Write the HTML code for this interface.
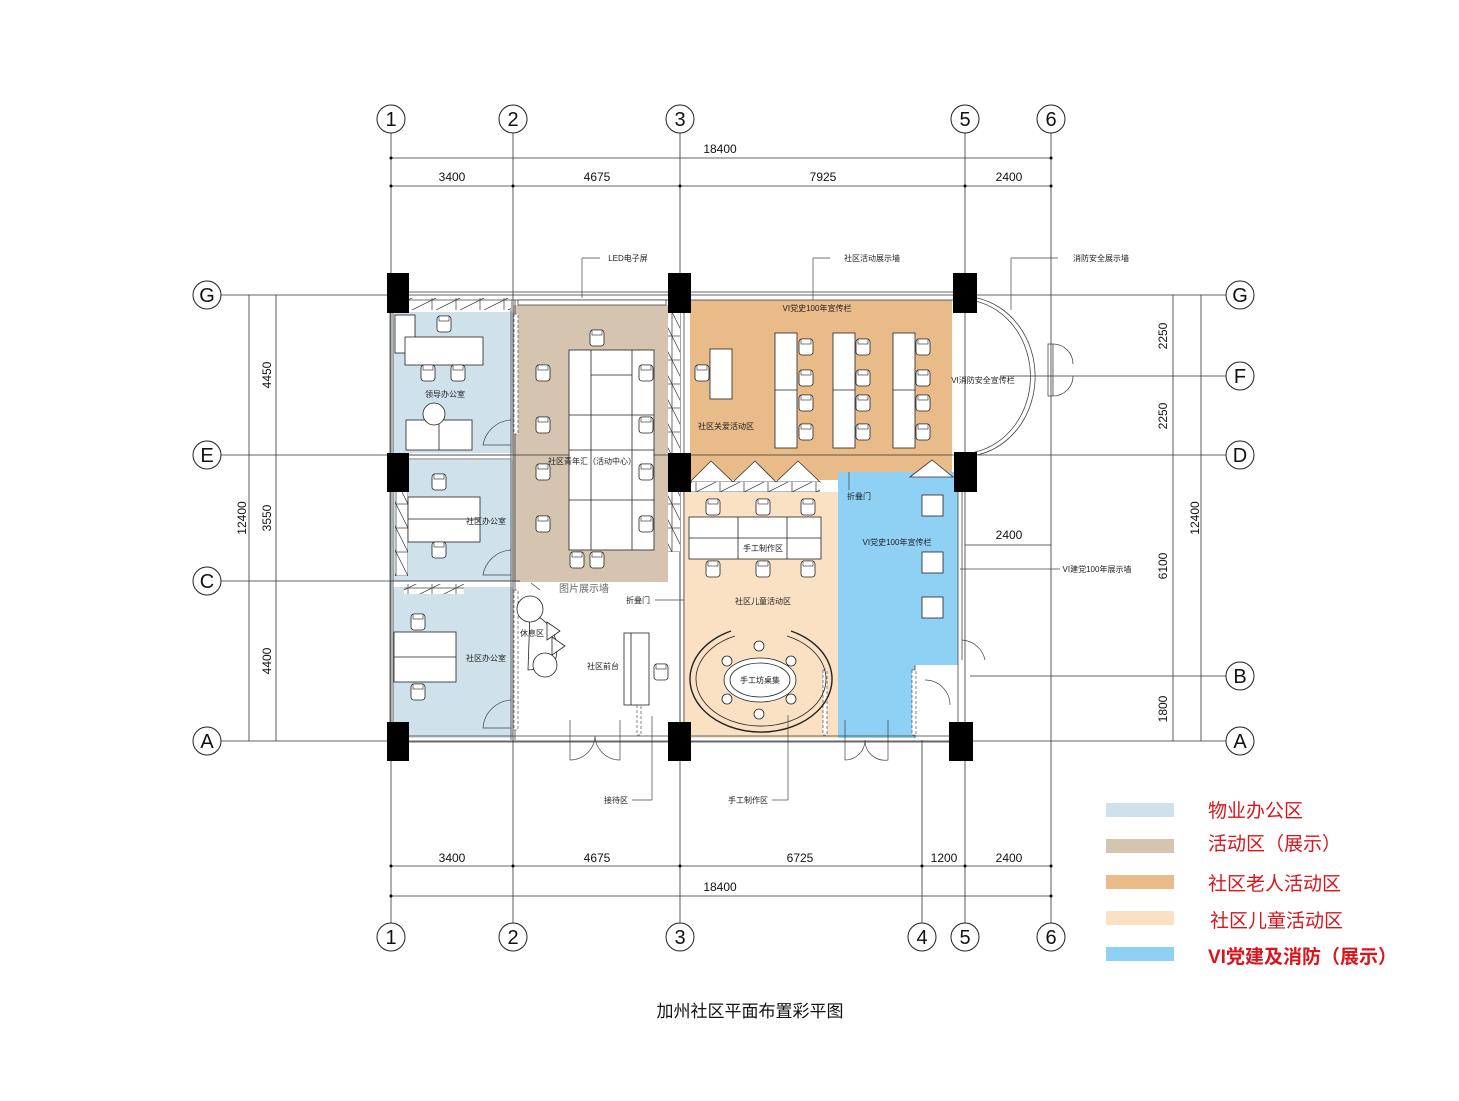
<!DOCTYPE html>
<html><head><meta charset="utf-8"><style>
html,body{margin:0;padding:0;background:#fff}
svg{display:block}
text{font-family:"Liberation Sans","Noto Sans CJK SC",sans-serif}
</style></head><body>
<svg width="1459" height="1101" viewBox="0 0 1459 1101" xmlns="http://www.w3.org/2000/svg">
<defs>
<g id="ch"><rect x="-7" y="-8" width="14" height="16" rx="3" fill="#fff" stroke="#222" stroke-width="0.8"/><rect x="-5" y="-8" width="10" height="5" fill="#fff" stroke="#222" stroke-width="0.6"/></g>
<pattern id="hat" width="24" height="12" patternUnits="userSpaceOnUse"><rect width="24" height="12" fill="#fff"/><path d="M0 12 L24 0" stroke="#333" stroke-width="0.7"/><rect width="24" height="12" fill="none" stroke="#333" stroke-width="0.7"/></pattern>
<pattern id="hatv" width="12" height="24" patternUnits="userSpaceOnUse"><rect width="12" height="24" fill="#fff"/><path d="M0 0 L12 24" stroke="#333" stroke-width="0.7"/><rect width="12" height="24" fill="none" stroke="#333" stroke-width="0.7"/></pattern>
</defs>

<rect x="393" y="312" width="120" height="141" fill="#cfe2ec"/>
<rect x="393" y="460" width="120" height="121" fill="#cfe2ec"/>
<rect x="393" y="587" width="120" height="151" fill="#cfe2ec"/>
<rect x="513" y="305" width="155" height="277" fill="#d5c4b0"/>
<path d="M690 300 L952 300 L952 480 L690 480 Z" fill="#e8bb88"/>
<rect x="683" y="492" width="155" height="246" fill="#fbe1c4"/>
<path d="M838 472 L958 472 L958 665 L915 665 L915 738 L838 738 Z" fill="#8fd0f5"/>
<g fill="#fff" stroke="#333" stroke-width="0.8">
<path d="M690 482 L711 461 L733 482 Z"/><path d="M733 482 L755 461 L776 482 Z"/><path d="M776 482 L798 461 L820 482 Z"/><path d="M910 477 L932 460 L953 477 Z"/>
</g>
<rect x="690" y="482" width="130" height="10" fill="url(#hat)"/>

<g stroke="#333" stroke-width="0.8" fill="none">
<line x1="391" y1="133" x2="391" y2="923"/><line x1="513" y1="133" x2="513" y2="923"/><line x1="680" y1="133" x2="680" y2="923"/>
<line x1="922" y1="740" x2="922" y2="923"/><line x1="965" y1="133" x2="965" y2="923"/><line x1="1051" y1="133" x2="1051" y2="923"/>
<line x1="221" y1="295" x2="1226" y2="295"/><line x1="1000" y1="376" x2="1226" y2="376"/>
<line x1="221" y1="455" x2="1226" y2="455"/><line x1="221" y1="581" x2="520" y2="581"/>
<line x1="970" y1="676" x2="1226" y2="676"/><line x1="221" y1="741" x2="1226" y2="741"/>
<line x1="391" y1="158" x2="1051" y2="158"/><line x1="391" y1="186" x2="1051" y2="186"/>
<line x1="391" y1="866" x2="1051" y2="866"/><line x1="391" y1="896" x2="1051" y2="896"/>
<line x1="249" y1="295" x2="249" y2="741"/><line x1="276" y1="295" x2="276" y2="741"/>
<line x1="1173" y1="295" x2="1173" y2="741"/><line x1="1201" y1="295" x2="1201" y2="741"/>
<line x1="965" y1="545" x2="1051" y2="545"/>
</g>
<g fill="#000">
<circle cx="391" cy="158" r="1.5"/><circle cx="1051" cy="158" r="1.5"/>
<circle cx="391" cy="186" r="1.5"/><circle cx="513" cy="186" r="1.5"/><circle cx="680" cy="186" r="1.5"/><circle cx="965" cy="186" r="1.5"/><circle cx="1051" cy="186" r="1.5"/>
<circle cx="391" cy="866" r="1.5"/><circle cx="513" cy="866" r="1.5"/><circle cx="680" cy="866" r="1.5"/><circle cx="922" cy="866" r="1.5"/><circle cx="965" cy="866" r="1.5"/><circle cx="1051" cy="866" r="1.5"/>
<circle cx="391" cy="896" r="1.5"/><circle cx="1051" cy="896" r="1.5"/>
</g>

<g stroke="#444" stroke-width="0.8" fill="none">
<rect x="391" y="292" width="574" height="8"/>
<rect x="391" y="736" width="574" height="6"/>
<line x1="390" y1="300" x2="390" y2="740"/><line x1="393" y1="300" x2="393" y2="740"/>
<line x1="511" y1="300" x2="511" y2="740"/><line x1="515" y1="300" x2="515" y2="740"/>
<line x1="680" y1="300" x2="680" y2="740"/><line x1="684" y1="300" x2="684" y2="740"/>
<line x1="958" y1="492" x2="958" y2="740"/><line x1="962" y1="492" x2="962" y2="660"/>
<line x1="393" y1="455" x2="511" y2="455"/><line x1="393" y1="459" x2="511" y2="459"/>
<line x1="393" y1="581" x2="511" y2="581"/>
<line x1="915" y1="665" x2="915" y2="738"/>
<path d="M977 298 A72 80 0 0 1 977 455"/>
<path d="M975 301 A69 77 0 0 1 975 452"/>
<rect x="1048" y="344" width="5" height="52"/>
<path d="M1053 344 A20 20 0 0 1 1073 364 M1053 396 A20 20 0 0 0 1073 376"/>
</g>
<rect x="407" y="298" width="104" height="12" fill="url(#hat)"/>
<rect x="518" y="300" width="148" height="5" fill="#fff" stroke="#333" stroke-width="0.7"/>
<rect x="668" y="313" width="12" height="140" fill="url(#hatv)"/>
<rect x="395" y="492" width="13" height="84" fill="url(#hatv)"/>
<rect x="404" y="584" width="60" height="10" fill="url(#hat)"/>
<rect x="668" y="492" width="12" height="60" fill="url(#hatv)"/>
<g fill="#fff" stroke="#333" stroke-width="0.6">
<rect x="514" y="314" width="4" height="120" stroke-dasharray="3 2"/>
<rect x="514" y="590" width="4" height="140" stroke-dasharray="3 2"/>
<rect x="637" y="640" width="4" height="95" stroke-dasharray="3 2"/>
<rect x="823" y="670" width="4" height="65" stroke-dasharray="3 2"/>
<rect x="912" y="670" width="4" height="65" stroke-dasharray="3 2"/>
</g>

<g fill="#000">
<rect x="387" y="273" width="22" height="40"/><rect x="668" y="273" width="23" height="40"/><rect x="953" y="273" width="24" height="40"/>
<rect x="387" y="453" width="22" height="39"/><rect x="668" y="453" width="23" height="39"/><rect x="954" y="452" width="23" height="40"/>
<rect x="387" y="722" width="22" height="39"/><rect x="668" y="722" width="23" height="39"/><rect x="949" y="722" width="24" height="39"/>
</g>

<g fill="none" stroke="#444" stroke-width="0.7">
<path d="M511 420 A30 30 0 0 0 483 445 L511 445"/>
<path d="M511 550 A30 30 0 0 0 483 575 L511 575"/>
<path d="M511 700 A30 30 0 0 0 483 728 L511 728"/>
<path d="M570 720 L570 760 A25 25 0 0 0 595 736 M620 720 L620 760 A25 25 0 0 1 595 736"/>
<path d="M845 720 L845 760 A20 20 0 0 0 865 740 M888 720 L888 760 A20 20 0 0 1 865 740"/>
<path d="M925 680 A25 25 0 0 1 950 705"/>
<path d="M962 640 A25 25 0 0 1 985 660"/>
</g>

<g fill="#fff" stroke="#222" stroke-width="0.8">
<rect x="395" y="315" width="20" height="38"/>
<rect x="405" y="337" width="78" height="28"/>
<rect x="406" y="420" width="66" height="30"/><line x1="439" y1="420" x2="439" y2="450"/>
<circle cx="434" cy="414" r="11"/>
<rect x="408" y="497" width="72" height="45"/><line x1="408" y1="519" x2="480" y2="519"/>
<rect x="394" y="632" width="62" height="50"/><line x1="394" y1="657" x2="456" y2="657"/>
<rect x="569" y="350" width="85" height="200"/>
<line x1="591" y1="350" x2="591" y2="550"/><line x1="632" y1="350" x2="632" y2="550"/>
<line x1="591" y1="375" x2="632" y2="375"/><line x1="569" y1="415" x2="654" y2="415"/><line x1="569" y1="450" x2="654" y2="450"/><line x1="569" y1="500" x2="654" y2="500"/>
<rect x="710" y="349" width="22" height="50"/>
<rect x="775" y="333" width="22" height="115"/><line x1="775" y1="390" x2="797" y2="390"/>
<rect x="833" y="333" width="22" height="115"/><line x1="833" y1="390" x2="855" y2="390"/>
<rect x="893" y="333" width="22" height="115"/><line x1="893" y1="390" x2="915" y2="390"/>
<rect x="689" y="517" width="132" height="42"/><line x1="689" y1="538" x2="821" y2="538"/><line x1="738" y1="517" x2="738" y2="559"/><line x1="787" y1="517" x2="787" y2="559"/>
<rect x="922" y="495" width="21" height="21"/><rect x="922" y="552" width="21" height="21"/><rect x="922" y="597" width="21" height="21"/>
<rect x="624" y="633" width="25" height="72"/><line x1="631" y1="633" x2="631" y2="705"/>
<path d="M530 613 A38 38 0 0 1 552 668 L528 670 Z"/>
<circle cx="530" cy="609" r="13"/>
<circle cx="545" cy="665" r="12"/>
<path d="M547 622 L560 631 L547 640 Z M552 637 L565 646 L552 655 Z"/>
<ellipse cx="760" cy="680" rx="36" ry="22"/><ellipse cx="760" cy="680" rx="30" ry="17"/>
<circle cx="759" cy="646" r="5"/><circle cx="727" cy="661" r="5"/><circle cx="791" cy="661" r="5"/><circle cx="727" cy="699" r="5"/><circle cx="791" cy="699" r="5"/><circle cx="759" cy="714" r="5"/>
</g>
<g fill="none" stroke="#222">
<path d="M731 631 A71 53 0 1 0 791 631" stroke-width="1.4"/>
<path d="M735 636 A65 47 0 1 0 787 636" stroke-width="0.8"/>
</g>
<g>
<use href="#ch" x="444" y="324"/><use href="#ch" x="428" y="373"/><use href="#ch" x="458" y="373"/>
<use href="#ch" x="439" y="482"/><use href="#ch" x="439" y="550"/>
<use href="#ch" x="418" y="622"/><use href="#ch" x="418" y="692"/>
<use href="#ch" x="597" y="338"/><use href="#ch" x="577" y="560"/><use href="#ch" x="597" y="560"/>
<use href="#ch" x="543" y="373"/><use href="#ch" x="543" y="425"/><use href="#ch" x="543" y="472"/><use href="#ch" x="543" y="524"/>
<use href="#ch" x="646" y="373"/><use href="#ch" x="646" y="425"/><use href="#ch" x="646" y="472"/><use href="#ch" x="646" y="524"/>
<use href="#ch" x="702" y="373"/>
<use href="#ch" x="806" y="347"/><use href="#ch" x="806" y="378"/><use href="#ch" x="806" y="403"/><use href="#ch" x="806" y="432"/>
<use href="#ch" x="863" y="347"/><use href="#ch" x="863" y="378"/><use href="#ch" x="863" y="403"/><use href="#ch" x="863" y="432"/>
<use href="#ch" x="923" y="347"/><use href="#ch" x="923" y="378"/><use href="#ch" x="923" y="403"/><use href="#ch" x="923" y="432"/>
<use href="#ch" x="713" y="507"/><use href="#ch" x="763" y="507"/><use href="#ch" x="808" y="507"/>
<use href="#ch" x="713" y="569"/><use href="#ch" x="763" y="569"/><use href="#ch" x="808" y="569"/>
<use href="#ch" x="661" y="672"/>
</g>

<g stroke="#444" stroke-width="0.7" fill="none">
<line x1="582" y1="258" x2="582" y2="298"/><line x1="582" y1="258" x2="600" y2="258"/>
<line x1="813" y1="258" x2="813" y2="300"/><line x1="813" y1="258" x2="830" y2="258"/>
<path d="M1011 258 L1058 258 M1011 258 L1011 310"/>
<line x1="960" y1="569" x2="1060" y2="569"/>
<line x1="652" y1="716" x2="652" y2="800"/><line x1="632" y1="800" x2="652" y2="800"/>
<line x1="788" y1="715" x2="788" y2="800"/><line x1="772" y1="800" x2="788" y2="800"/>
<line x1="655" y1="600" x2="684" y2="600"/>
<line x1="531" y1="583" x2="540" y2="590"/>
<line x1="849" y1="472" x2="849" y2="490"/>
</g>

<g fill="#fff" stroke="#222" stroke-width="1">
<circle cx="391" cy="119" r="14"/><circle cx="513" cy="119" r="14"/><circle cx="680" cy="119" r="14"/><circle cx="965" cy="119" r="14"/><circle cx="1051" cy="119" r="14"/>
<circle cx="391" cy="937" r="14"/><circle cx="513" cy="937" r="14"/><circle cx="680" cy="937" r="14"/><circle cx="922" cy="937" r="14"/><circle cx="965" cy="937" r="14"/><circle cx="1051" cy="937" r="14"/>
<circle cx="207" cy="295" r="14"/><circle cx="207" cy="455" r="14"/><circle cx="207" cy="581" r="14"/><circle cx="207" cy="741" r="14"/>
<circle cx="1240" cy="295" r="14"/><circle cx="1240" cy="376" r="14"/><circle cx="1240" cy="455" r="14"/><circle cx="1240" cy="676" r="14"/><circle cx="1240" cy="741" r="14"/>
</g>
<g font-family="Liberation Serif,serif" font-size="20" text-anchor="middle" fill="#111">
<text x="391" y="126">1</text><text x="513" y="126">2</text><text x="680" y="126">3</text><text x="965" y="126">5</text><text x="1051" y="126">6</text>
<text x="391" y="944">1</text><text x="513" y="944">2</text><text x="680" y="944">3</text><text x="922" y="944">4</text><text x="965" y="944">5</text><text x="1051" y="944">6</text>
<text x="207" y="302">G</text><text x="207" y="462">E</text><text x="207" y="588">C</text><text x="207" y="748">A</text>
<text x="1240" y="302">G</text><text x="1240" y="383">F</text><text x="1240" y="462">D</text><text x="1240" y="683">B</text><text x="1240" y="748">A</text>
</g>
<g font-size="12" text-anchor="middle" fill="#111">
<text x="720" y="153">18400</text>
<text x="452" y="181">3400</text><text x="597" y="181">4675</text><text x="823" y="181">7925</text><text x="1009" y="181">2400</text>
<text x="452" y="862">3400</text><text x="597" y="862">4675</text><text x="800" y="862">6725</text><text x="944" y="862">1200</text><text x="1009" y="862">2400</text>
<text x="720" y="891">18400</text>
<text x="1009" y="539">2400</text>
<text transform="translate(246,518) rotate(-90)">12400</text>
<text transform="translate(271,375) rotate(-90)">4450</text>
<text transform="translate(271,518) rotate(-90)">3550</text>
<text transform="translate(271,661) rotate(-90)">4400</text>
<text transform="translate(1167,336) rotate(-90)">2250</text>
<text transform="translate(1167,416) rotate(-90)">2250</text>
<text transform="translate(1167,566) rotate(-90)">6100</text>
<text transform="translate(1167,709) rotate(-90)">1800</text>
<text transform="translate(1199,518) rotate(-90)">12400</text>
</g>
<g font-size="8" fill="#222" text-anchor="middle">
<text x="628" y="261">LED电子屏</text>
<text x="872" y="261">社区活动展示墙</text>
<text x="1101" y="261">消防安全展示墙</text>
<text x="817" y="311">VI党史100年宣传栏</text>
<text x="983" y="383">VI消防安全宣传栏</text>
<text x="726" y="429">社区关爱活动区</text>
<text x="445" y="397">领导办公室</text>
<text x="592" y="464">社区青年汇（活动中心）</text>
<text x="486" y="524">社区办公室</text>
<text x="486" y="661">社区办公室</text>
<text x="859" y="499">折叠门</text>
<text x="897" y="545">VI党史100年宣传栏</text>
<text x="763" y="551">手工制作区</text>
<text x="763" y="604">社区儿童活动区</text>
<text x="760" y="683">手工坊桌集</text>
<text x="638" y="603">折叠门</text>
<text x="532" y="636">休息区</text>
<text x="603" y="669">社区前台</text>
<text x="1097" y="572">VI建党100年展示墙</text>
<text x="616" y="803">接待区</text>
<text x="748" y="803">手工制作区</text>
</g>
<text x="584" y="592" font-size="10" fill="#666" text-anchor="middle">图片展示墙</text>

<rect x="1106" y="803" width="68" height="14" fill="#cfe2ec"/>
<rect x="1106" y="839" width="68" height="14" fill="#d5c4b0"/>
<rect x="1106" y="875" width="68" height="14" fill="#e8bb88"/>
<rect x="1106" y="911" width="68" height="14" fill="#fbe1c4"/>
<rect x="1106" y="947" width="68" height="14" fill="#8fd0f5"/>
<g font-size="19" fill="#d9141b">
<text x="1208" y="817">物业办公区</text>
<text x="1208" y="850">活动区（展示）</text>
<text x="1208" y="890">社区老人活动区</text>
<text x="1210" y="927">社区儿童活动区</text>
<text x="1208" y="963" font-weight="bold">VI党建及消防（展示）</text>
</g>
<text x="750" y="1017" font-size="17" text-anchor="middle" fill="#111">加州社区平面布置彩平图</text>
</svg>
</body></html>
